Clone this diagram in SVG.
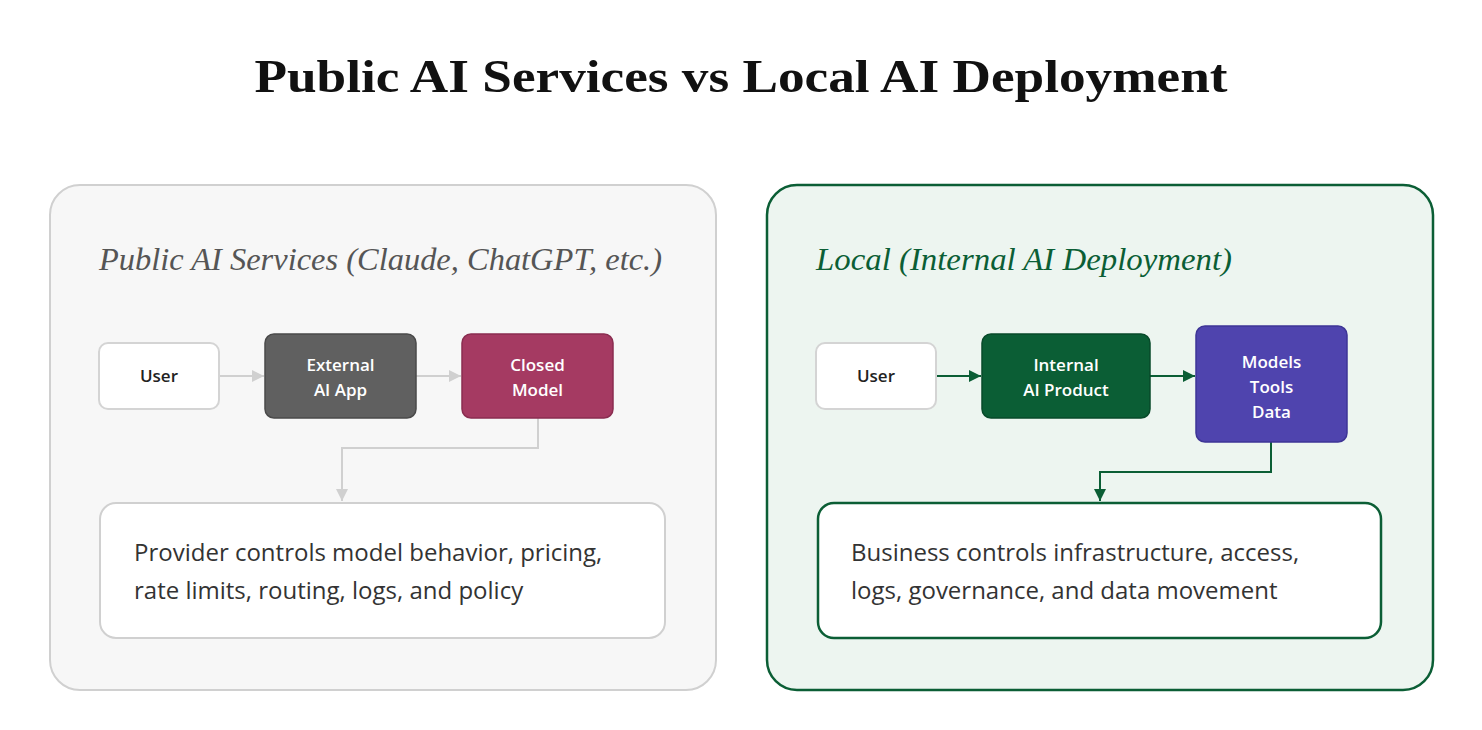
<svg xmlns="http://www.w3.org/2000/svg" width="1482" height="730" viewBox="0 0 1482 730">
<style>
.title{font-family:"Liberation Serif","DejaVu Serif",serif;font-weight:bold;font-size:46px;fill:#111;}
.sub{font-family:"Liberation Serif","DejaVu Serif",serif;font-style:italic;font-size:31px;}
.node{font-family:"Open Sans","Noto Sans",sans-serif;font-weight:600;font-size:17px;text-anchor:middle;}
.body{font-family:"Open Sans","Noto Sans",sans-serif;font-size:24px;fill:#333;}
.gline{fill:none;stroke:#d0d0d0;stroke-width:2;}
.dline{fill:none;stroke:#0b5e35;stroke-width:2;}
</style>
<defs>
<marker id="ag" viewBox="0 0 10 10" refX="10" refY="5" markerWidth="12" markerHeight="12" markerUnits="userSpaceOnUse" orient="auto"><path d="M0,0 L10,5 L0,10 z" fill="#d0d0d0"/></marker>
<marker id="ad" viewBox="0 0 10 10" refX="10" refY="5" markerWidth="12" markerHeight="12" markerUnits="userSpaceOnUse" orient="auto"><path d="M0,0 L10,5 L0,10 z" fill="#0b5e35"/></marker>
</defs>
<rect width="1482" height="730" fill="#ffffff"/>
<text class="title" x="741" y="92" text-anchor="middle" textLength="973" lengthAdjust="spacingAndGlyphs">Public AI Services vs Local AI Deployment</text>

<g id="panel-public">
<rect x="50" y="185" width="666" height="505" rx="30" fill="#f7f7f7" stroke="#d0d0d0" stroke-width="2"/>
<text class="sub" x="99" y="270" fill="#555555" textLength="563" lengthAdjust="spacingAndGlyphs">Public AI Services (Claude, ChatGPT, etc.)</text>
</g>
<g id="panel-local">
<rect x="767" y="185" width="666" height="505" rx="30" fill="#edf5f0" stroke="#0b5e35" stroke-width="2.5"/>
<text class="sub" x="816" y="270" fill="#0b5e35" textLength="416" lengthAdjust="spacingAndGlyphs">Local (Internal AI Deployment)</text>
</g>

<g id="connectors">
<path class="gline" d="M219,376 H264" marker-end="url(#ag)"/>
<path class="gline" d="M416,376 H461" marker-end="url(#ag)"/>
<path class="gline" d="M538,418 V448 H342 V501" marker-end="url(#ag)"/>
<path class="dline" d="M936,376 H981" marker-end="url(#ad)"/>
<path class="dline" d="M1150,376 H1195" marker-end="url(#ad)"/>
<path class="dline" d="M1271,442 V472 H1100 V501" marker-end="url(#ad)"/>
</g>

<g id="user-public">
<rect x="99" y="343" width="120" height="66" rx="9" fill="#ffffff" stroke="#d4d4d4" stroke-width="2"/>
<text class="node" x="159" y="382" fill="#222">User</text>
</g>
<g id="external-app">
<rect x="265" y="334" width="151" height="84" rx="9" fill="#606060" stroke="#4a4a4a" stroke-width="1.5"/>
<text class="node" x="340.5" y="371" fill="#fff">External</text>
<text class="node" x="340.5" y="396" fill="#fff">AI App</text>
</g>
<g id="closed-model">
<rect x="462" y="334" width="151" height="84" rx="9" fill="#a53a62" stroke="#8a2d50" stroke-width="1.5"/>
<text class="node" x="537.5" y="371" fill="#fff">Closed</text>
<text class="node" x="537.5" y="396" fill="#fff">Model</text>
</g>
<g id="provider-box">
<rect x="100" y="503" width="565" height="135" rx="16" fill="#ffffff" stroke="#d0d0d0" stroke-width="2"/>
<text class="body" x="134" y="561">Provider controls model behavior, pricing,</text>
<text class="body" x="134" y="599">rate limits, routing, logs, and policy</text>
</g>

<g id="user-local">
<rect x="816" y="343" width="120" height="66" rx="9" fill="#ffffff" stroke="#d4d4d4" stroke-width="2"/>
<text class="node" x="876" y="382" fill="#222">User</text>
</g>
<g id="internal-product">
<rect x="982" y="334" width="168" height="84" rx="9" fill="#0b5e35" stroke="#084a2a" stroke-width="1.5"/>
<text class="node" x="1066" y="371" fill="#fff">Internal</text>
<text class="node" x="1066" y="396" fill="#fff">AI Product</text>
</g>
<g id="models-tools-data">
<rect x="1196" y="326" width="151" height="116" rx="9" fill="#4f44ae" stroke="#3e3596" stroke-width="1.5"/>
<text class="node" x="1271.5" y="368" fill="#fff">Models</text>
<text class="node" x="1271.5" y="393" fill="#fff">Tools</text>
<text class="node" x="1271.5" y="418" fill="#fff">Data</text>
</g>
<g id="business-box">
<rect x="818" y="503" width="563" height="135" rx="16" fill="#ffffff" stroke="#0b5e35" stroke-width="2.5"/>
<text class="body" x="851" y="561">Business controls infrastructure, access,</text>
<text class="body" x="851" y="599">logs, governance, and data movement</text>
</g>
</svg>
